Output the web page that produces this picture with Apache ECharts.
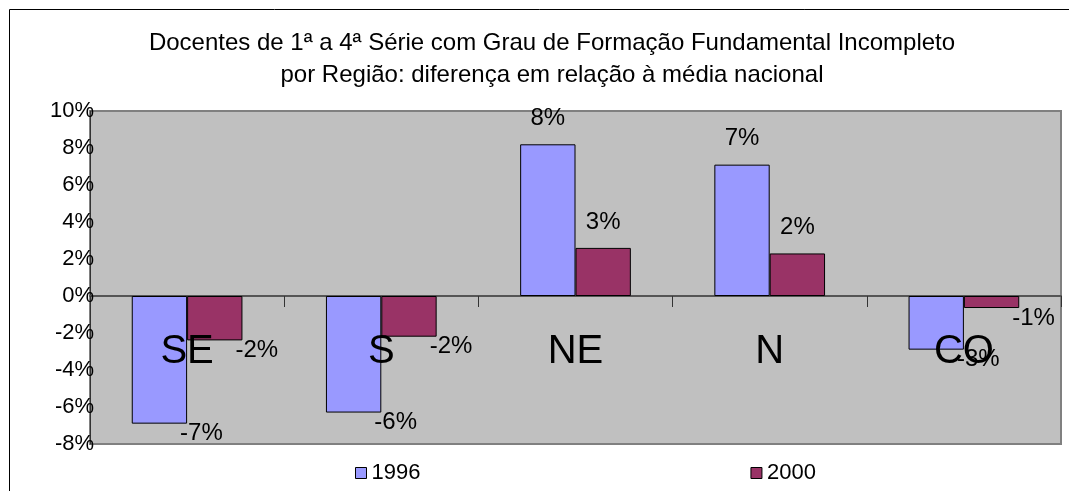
<!DOCTYPE html>
<html>
<head>
<meta charset="utf-8">
<script src="https://cdn.jsdelivr.net/npm/echarts@6/dist/echarts.min.js"></script>
<style>
  html, body { margin: 0; padding: 0; background: #ffffff; }
  #chart { width: 1069px; height: 491px; }
</style>
</head>
<body>
<div id="chart"></div>
<script>
// Regions and percentage-point difference from the national average
const regions = ['SE', 'S', 'NE', 'N', 'CO'];
const seriesNames = ['1996', '2000'];
const values1996 = [-6.9, -6.3, 8.2, 7.1, -2.9];
const values2000 = [-2.4, -2.2, 2.6, 2.3, -0.65];
const yTicks = { min: -8, max: 10, step: 2 };

const titleLines = [
  'Docentes de 1ª a 4ª Série com Grau de Formação Fundamental Incompleto',
  'por Região: diferença em relação à média nacional'
];

const FONT = '"Liberation Sans", Arial, sans-serif';
const colors = ['#9999FF', '#993366'];

// plot box
const GRID = { left: 90, right: 8, top: 111, bottom: 47 };
const CHART_H = 491;
const plotH = CHART_H - GRID.top - GRID.bottom;
// distance from the plot's bottom edge up to the zero line
const zeroLift = plotH * (0 - yTicks.min) / (yTicks.max - yTicks.min);

function pct(v) { return Math.round(v) + '%'; }

// Positive bars carry their label above; negative bars just below and to the right
function withLabels(values) {
  return values.map(function (v) {
    return {
      value: v,
      label: v >= 0
        ? { position: 'top', distance: 14, offset: [0, 0] }
        : { position: 'bottom', distance: 0, offset: [42, -2] }
    };
  });
}

const chart = echarts.init(document.getElementById('chart'), null, { renderer: 'canvas' });

const labelStyle = {
  show: true,
  formatter: function (p) { return pct(p.value); },
  color: '#000',
  fontFamily: FONT,
  fontSize: 24
};

chart.setOption({
  backgroundColor: '#ffffff',
  animation: false,
  title: {
    text: titleLines.join('\n'),
    left: 547,
    top: 22,
    textAlign: 'center',
    textStyle: {
      color: '#000',
      fontFamily: FONT,
      fontSize: 24,
      fontWeight: 'normal',
      lineHeight: 32
    }
  },
  graphic: [
    {
      type: 'rect',
      left: 7, top: 7,
      shape: { width: 1100, height: 520 },
      style: { fill: null, stroke: '#000', lineWidth: 1 },
      silent: true,
      z: -10
    }
  ],
  legend: {
    data: seriesNames,
    left: 350,
    top: 457,
    itemWidth: 11,
    itemHeight: 11,
    itemGap: 330,
    icon: 'rect',
    itemStyle: { borderColor: '#000', borderWidth: 1 },
    textStyle: { color: '#000', fontFamily: FONT, fontSize: 22 }
  },
  grid: {
    left: GRID.left,
    right: GRID.right,
    top: GRID.top,
    bottom: GRID.bottom,
    outerBoundsMode: 'none',
    containLabel: false,
    show: true,
    backgroundColor: '#C0C0C0',
    borderColor: '#808080',
    borderWidth: 2
  },
  xAxis: [
    {
      // zero line with the category boundary ticks
      type: 'category',
      data: regions,
      axisLine: { onZero: true, lineStyle: { color: '#555', width: 2 } },
      axisTick: { show: true, length: 11, lineStyle: { color: '#333', width: 1 } },
      axisLabel: { show: false },
      splitLine: { show: false }
    },
    {
      // region names, hung just below the zero line, drawn over the bars
      type: 'category',
      data: regions,
      position: 'bottom',
      offset: -zeroLift,
      z: 10,
      axisLine: { show: false, onZero: false },
      axisTick: { show: false },
      splitLine: { show: false },
      axisLabel: {
        color: '#000',
        fontFamily: FONT,
        fontSize: 40,
        margin: 36
      }
    }
  ],
  yAxis: {
    type: 'value',
    min: yTicks.min,
    max: yTicks.max,
    interval: yTicks.step,
    axisLine: { show: true, lineStyle: { color: '#333', width: 1 } },
    axisTick: { show: false },
    splitLine: { show: false },
    axisLabel: {
      color: '#000',
      fontFamily: FONT,
      fontSize: 22,
      margin: -4,
      formatter: function (v) { return v + '%'; }
    }
  },
  series: [
    {
      name: seriesNames[0],
      type: 'bar',
      xAxisIndex: 0,
      data: withLabels(values1996),
      barGap: '0%',
      barCategoryGap: '43%',
      itemStyle: { color: colors[0], borderColor: '#000', borderWidth: 1 },
      label: labelStyle
    },
    {
      name: seriesNames[1],
      type: 'bar',
      xAxisIndex: 0,
      data: withLabels(values2000),
      barGap: '0%',
      barCategoryGap: '43%',
      itemStyle: { color: colors[1], borderColor: '#000', borderWidth: 1 },
      label: labelStyle
    }
  ]
});
</script>
</body>
</html>
